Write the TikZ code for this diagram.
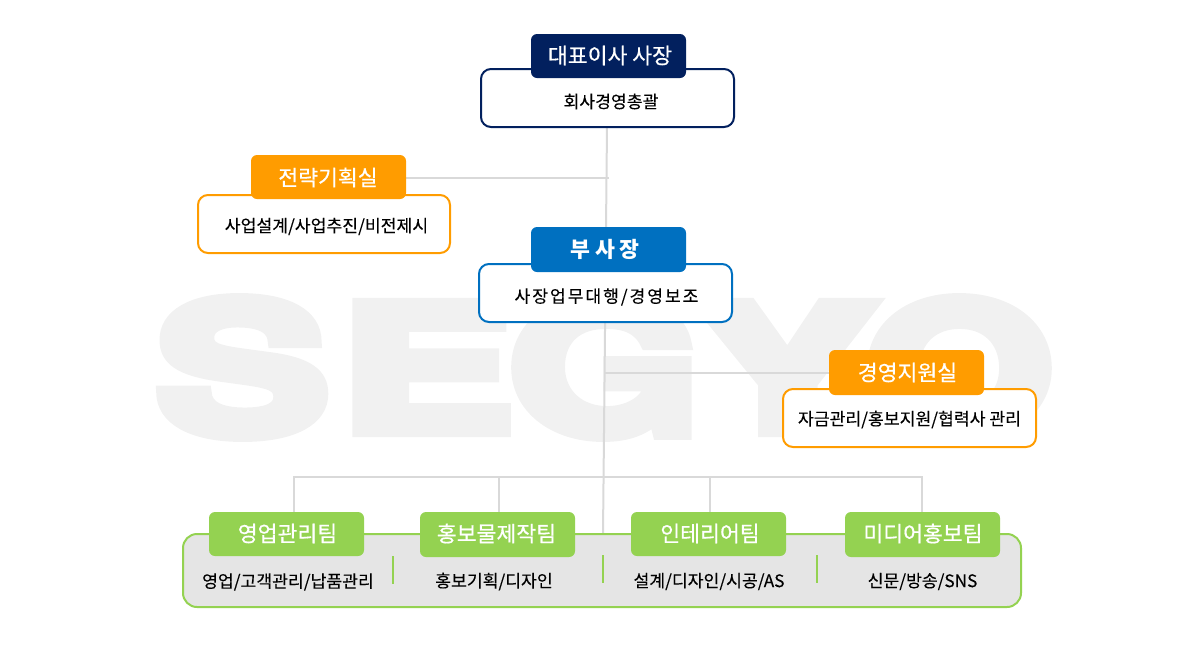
\documentclass[tikz,border=0pt]{standalone}
\usepackage{fontspec}
\setmainfont{Noto Sans CJK KR}
\newfontfamily\headfont[FakeBold=0.6]{Noto Sans CJK KR}
\newfontfamily\bodyfont[FakeBold=0.15]{Noto Sans CJK KR}
\newfontfamily\spacedfont[LetterSpace=11,FakeBold=0.15]{Noto Sans CJK KR}
\newfontfamily\wmfont[FakeBold=7]{TeX Gyre Heros Bold}
\usetikzlibrary{backgrounds}
\definecolor{navy}{HTML}{02205E}
\definecolor{bluec}{HTML}{0070C0}
\definecolor{orangec}{HTML}{FF9C00}
\definecolor{greenc}{HTML}{94D251}
\definecolor{linec}{HTML}{D9D9D9}
\definecolor{wmc}{HTML}{F1F1F1}
\definecolor{panelc}{HTML}{E5E5E5}
\tikzset{
  every node/.style={inner sep=0pt,outer sep=0pt},
  head/.style={fill=#1,rounded corners=6pt,minimum width=155pt,minimum height=44pt},
  headtxt/.style={text=white,font=\headfont\fontsize{21.6}{22}\selectfont},
  bodybox/.style={draw=#1,fill=white,line width=2pt,rounded corners=10pt,minimum width=253pt,minimum height=58pt},
  bodytxt/.style={text=black,font=\bodyfont\fontsize{17.2}{18}\selectfont},
  conn/.style={draw=linec,line width=2pt},
  divider/.style={draw=greenc,line width=2pt},
  wm/.style={text=wmc,font=\wmfont\fontsize{200}{200}\selectfont}
}
\begin{document}
\begin{tikzpicture}[x=1pt,y=-1pt]
\useasboundingbox (0,0) rectangle (1194,654);
% panel
\node[draw=greenc,fill=panelc,line width=2pt,rounded corners=14pt,minimum width=838pt,minimum height=73pt] (panel) at (602,570.5) {};
% boxes
\node[bodybox=navy] (ceobox) at (607.5,98) {};
\node[head=navy] (ceo) at (608.5,56) {};
\node[bodytxt] (ceot) at (611,101.5) {회사경영총괄};
\node[bodybox=orangec,minimum width=252pt] (stratbox) at (324,224) {};
\node[head=orangec] (strat) at (328.5,177) {};
\node[bodytxt] (stratt) at (326.5,226.5) {사업설계/사업추진/비전제시};
\node[bodybox=bluec] (vpbox) at (605.5,293) {};
\node[head=bluec,minimum height=45pt] (vp) at (608.5,249.5) {};
\node[text=black,font=\spacedfont\fontsize{17.2}{18}\selectfont] (vpt) at (606.5,297) {사장업무대행/경영보조};
\node[bodybox=orangec] (supbox) at (909.5,418) {};
\node[head=orangec,minimum height=45pt] (sup) at (906.5,372.5) {};
\node[bodytxt] (supt) at (909.5,419.5) {자금관리/홍보지원/협력사 관리};
% team heads
\node[head=greenc] (t1) at (286.5,534) {};
\node[head=greenc,minimum height=45pt] (t2) at (497.5,534.5) {};
\node[head=greenc] (t3) at (708.5,534) {};
\node[head=greenc,minimum height=45pt] (t4) at (922.5,534.5) {};
% head labels
\node[headtxt] (ceol) at (610,55.5) {대표이사 사장};
\node[headtxt] (stratl) at (328,177.5) {전략기획실};
\node[headtxt,font=\bfseries\fontsize{21.6}{22}\selectfont] (vpl) at (605,249.5) {부 사 장};
\node[headtxt] (supl) at (907.5,372.5) {경영지원실};
\node[headtxt] (t1l) at (287.5,533.5) {영업관리팀};
\node[headtxt] (t2l) at (496.5,533.5) {홍보물제작팀};
\node[headtxt] (t3l) at (710,533.5) {인테리어팀};
\node[headtxt] (t4l) at (923,533.5) {미디어홍보팀};
% team bodies
\node[bodytxt] (t1t) at (288,582) {영업/고객관리/납품관리};
\node[bodytxt] (t2t) at (494,581.5) {홍보기획/디자인};
\node[bodytxt] (t3t) at (709,581.5) {설계/디자인/시공/AS};
\node[bodytxt] (t4t) at (922.5,581.5) {신문/방송/SNS};
% dividers
\coordinate (d1a) at (393,556); \coordinate (d1b) at (393,584);
\coordinate (d2a) at (603,555); \coordinate (d2b) at (603,583);
\coordinate (d3a) at (817,555); \coordinate (d3b) at (817,583);
\draw[divider] (d1a) -- (d1b);
\draw[divider] (d2a) -- (d2b);
\draw[divider] (d3a) -- (d3b);
\begin{pgfonlayer}{background}
% watermark
\node[wm,anchor=center] (w1) at (242.5,367.5) {\resizebox{171pt}{134pt}{S}};
\node[wm,anchor=center] (w2) at (427,367.5) {\resizebox{172pt}{127pt}{E}};
\node[wm,anchor=center] (w3) at (604.5,367.5) {\resizebox{190pt}{134pt}{G}};
\node[wm,anchor=center] (w4) at (785,367.5) {\resizebox{180pt}{127pt}{Y}};
\node[wm,anchor=center] (w5) at (959,367.5) {\resizebox{186pt}{134pt}{O}};
% connectors
\coordinate (trunktop) at (607,127);
\coordinate (trunkend) at (603,534);
\coordinate (j1) at (609,178);
\coordinate (j2) at (604.7,373);
\coordinate (busL) at (294,477);
\coordinate (busR) at (922,477);
\coordinate (bus2) at (499,477);
\coordinate (bus3) at (710,477);
\draw[conn] (trunktop) -- (trunkend);
\draw[conn] (strat.east |- j1) -- (j1);
\draw[conn] (j2) -- (sup.west |- j2);
\draw[conn] (t1.north -| busL) -- (busL) -- (busR) -- (t4.north -| busR);
\draw[conn] (t2.north -| bus2) -- (bus2);
\draw[conn] (t3.north -| bus3) -- (bus3);
\end{pgfonlayer}
\end{tikzpicture}
\end{document}
